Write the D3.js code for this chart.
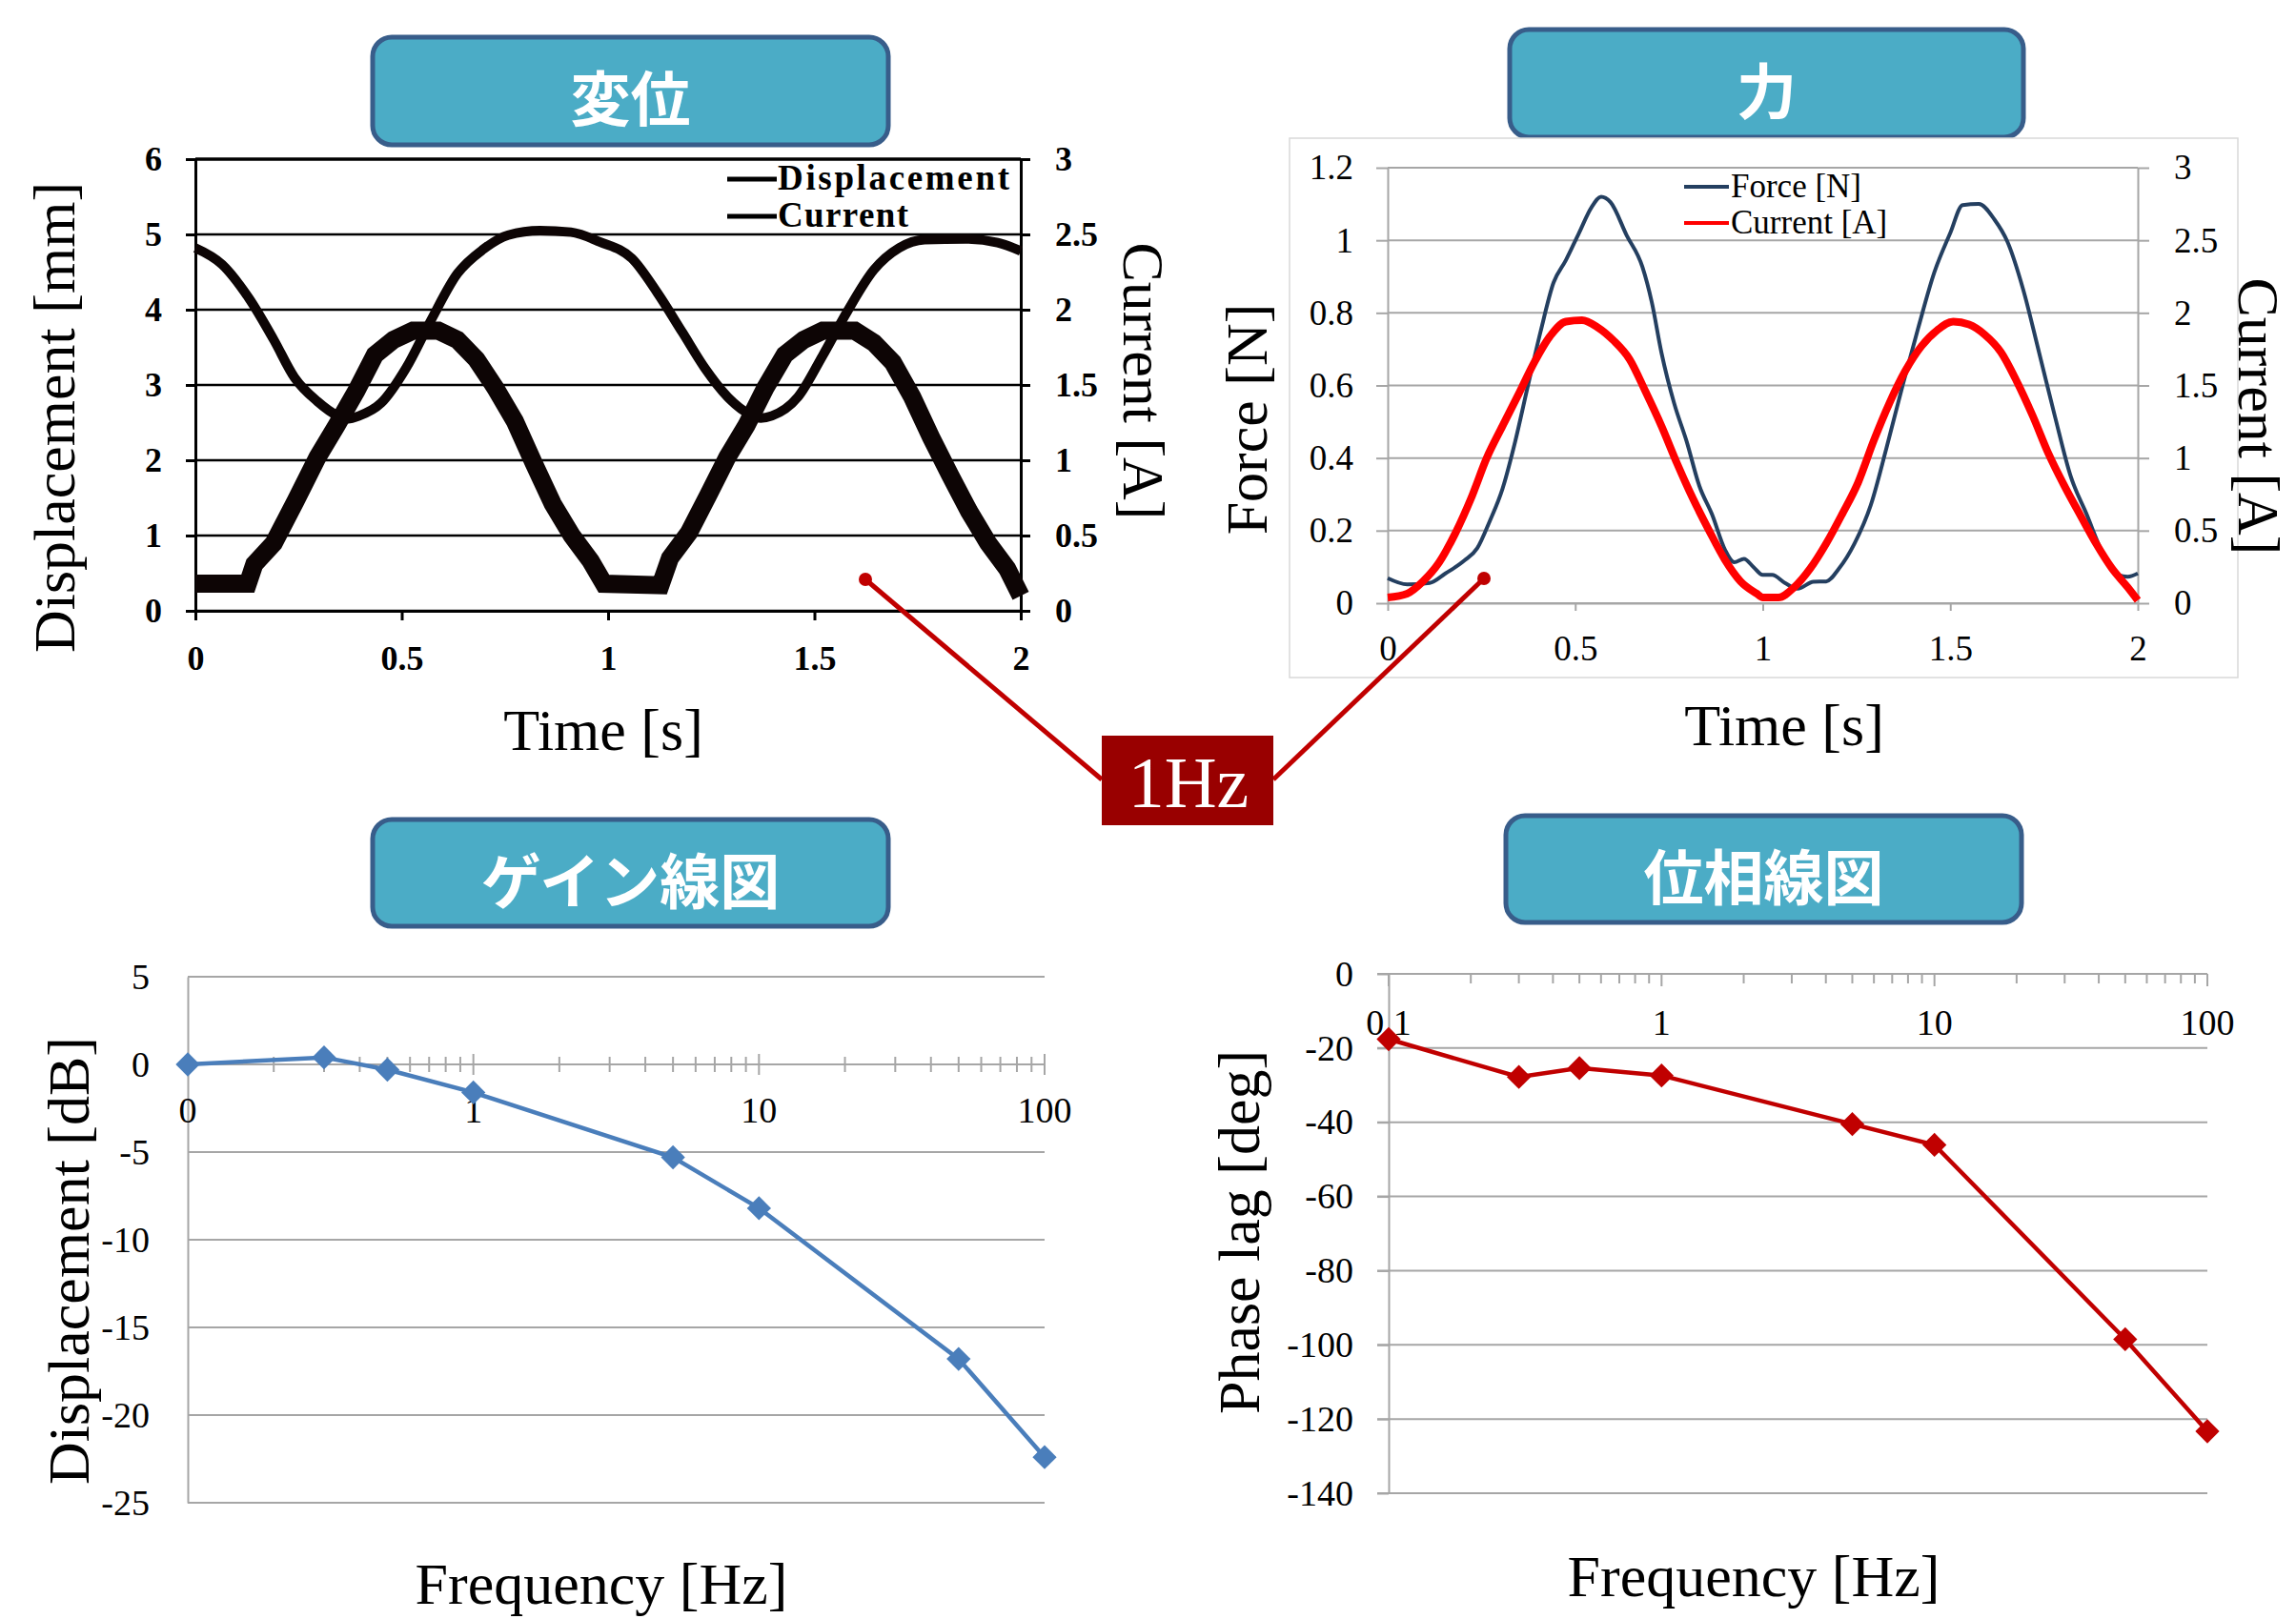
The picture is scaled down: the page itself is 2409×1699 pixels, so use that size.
<!DOCTYPE html>
<html>
<head>
<meta charset="utf-8">
<script src="https://cdn.jsdelivr.net/npm/d3@7"></script>
<style>
  body { margin: 0; background: #fff; }
</style>
</head>
<body>
<svg id="fig"></svg>
<script>
// ---- data ----
// top left: displacement [mm] and current [A] against time [s]
const dispT  = [0, 0.065, 0.13, 0.19, 0.24, 0.296, 0.342, 0.37, 0.397, 0.45, 0.51, 0.57, 0.635, 0.697, 0.758, 0.835, 0.91, 0.98,
                1.058, 1.12, 1.18, 1.235, 1.29, 1.344, 1.37, 1.397, 1.46, 1.52, 1.58, 1.644, 1.705, 1.767, 1.866, 1.944, 2.0];
const dispMM = [4.82, 4.6, 4.15, 3.6, 3.1, 2.78, 2.6, 2.55, 2.59, 2.76, 3.22, 3.85, 4.48, 4.8, 4.99, 5.05, 5.03, 4.9,
                4.68, 4.22, 3.7, 3.22, 2.84, 2.61, 2.56, 2.59, 2.84, 3.39, 3.98, 4.53, 4.82, 4.93, 4.94, 4.89, 4.78];
const cur1T = [0, 0.127, 0.143, 0.19, 0.243, 0.296, 0.342, 0.39, 0.435, 0.48, 0.527, 0.589, 0.635, 0.681, 0.727, 0.774, 0.82, 0.866, 0.912, 0.958, 0.99,
               1.127, 1.15, 1.196, 1.243, 1.289, 1.335, 1.381, 1.428, 1.474, 1.52, 1.598, 1.644, 1.69, 1.737, 1.783, 1.829, 1.875, 1.921, 1.967, 2.0];
const cur1A = [0.18, 0.18, 0.31, 0.45, 0.73, 1.02, 1.23, 1.46, 1.70, 1.80, 1.86, 1.86, 1.80, 1.67, 1.48, 1.26, 0.98, 0.71, 0.50, 0.33, 0.18,
               0.17, 0.35, 0.52, 0.77, 1.02, 1.23, 1.48, 1.70, 1.80, 1.86, 1.86, 1.78, 1.65, 1.42, 1.15, 0.90, 0.66, 0.45, 0.28, 0.10];

// top right: force [N] and current [A] against time [s]
const forceT = [0, 0.052, 0.112, 0.154, 0.205, 0.239, 0.272, 0.306, 0.34, 0.374, 0.408, 0.442, 0.475, 0.51, 0.543, 0.569, 0.594, 0.637, 0.679, 0.704,
                0.73, 0.764, 0.797, 0.831, 0.865, 0.899, 0.924, 0.95, 0.975, 1.0, 1.025, 1.059, 1.093, 1.135, 1.169, 1.203, 1.245, 1.288, 1.33, 1.373,
                1.415, 1.457, 1.5, 1.533, 1.576, 1.618, 1.652, 1.694, 1.737, 1.779, 1.821, 1.864, 1.906, 1.948, 1.973, 2.0];
const forceN = [0.069, 0.052, 0.056, 0.082, 0.118, 0.152, 0.226, 0.315, 0.446, 0.6, 0.75, 0.883, 0.945, 1.02, 1.09, 1.12, 1.105, 1.014, 0.927, 0.83,
                0.69, 0.55, 0.446, 0.323, 0.244, 0.148, 0.113, 0.122, 0.1, 0.078, 0.078, 0.056, 0.04, 0.059, 0.06, 0.095, 0.165, 0.27, 0.428, 0.6,
                0.76, 0.91, 1.02, 1.097, 1.1, 1.057, 0.997, 0.866, 0.69, 0.515, 0.35, 0.244, 0.139, 0.078, 0.073, 0.082];
const cur2T = [0, 0.052, 0.094, 0.137, 0.18, 0.222, 0.264, 0.306, 0.349, 0.391, 0.433, 0.475, 0.518, 0.56, 0.602, 0.645, 0.687, 0.73, 0.772, 0.814,
               0.857, 0.899, 0.941, 0.984, 1.0, 1.042, 1.084, 1.127, 1.169, 1.211, 1.254, 1.296, 1.338, 1.38, 1.423, 1.465, 1.508, 1.55, 1.592, 1.635,
               1.677, 1.72, 1.762, 1.804, 1.846, 1.889, 1.931, 1.973, 2.0];
const cur2A = [0.04, 0.066, 0.15, 0.28, 0.48, 0.72, 1.0, 1.22, 1.44, 1.66, 1.84, 1.94, 1.95, 1.9, 1.81, 1.68, 1.46, 1.22, 0.96, 0.72,
               0.5, 0.3, 0.15, 0.066, 0.04, 0.04, 0.11, 0.24, 0.41, 0.61, 0.83, 1.12, 1.38, 1.6, 1.77, 1.88, 1.94, 1.92, 1.85, 1.73,
               1.53, 1.29, 1.03, 0.81, 0.61, 0.41, 0.24, 0.11, 0.02];

// bottom: gain and phase against frequency
const freqHz   = [0.1, 0.3, 0.5, 1, 5, 10, 50, 100];
const gainDB   = [0, 0.4, -0.3, -1.6, -5.3, -8.2, -16.8, -22.4];
const phaseDeg = [-17.6, -27.8, -25.4, -27.4, -40.5, -46.1, -98.5, -123.3];

// ticks and labels
const timeTicks  = [0, 0.5, 1, 1.5, 2];
const dispTicks  = [0, 1, 2, 3, 4, 5, 6];
const curTicks   = [0, 0.5, 1, 1.5, 2, 2.5, 3];
const forceTicks = [0, 0.2, 0.4, 0.6, 0.8, 1, 1.2];
const gainTicks  = [5, 0, -5, -10, -15, -20, -25];
const phaseTicks = [0, -20, -40, -60, -80, -100, -120, -140];
const freqTicks  = [0.1, 1, 10, 100];
const gainFreqLabels  = ["0", "1", "10", "100"];
const phaseFreqLabels = ["0.1", "1", "10", "100"];
const titles = ["変位", "力", "ゲイン線図", "位相線図"];

// ---- setup ----
const W = 2409, H = 1699;
const serif = "'Liberation Serif','Times New Roman',serif";
const cjk = "'Noto Sans CJK JP','Noto Sans CJK SC',sans-serif";

var svg = d3.select("#fig").attr("width", W).attr("height", H);
svg.append("rect").attr("width", W).attr("height", H).attr("fill", "#fff");

function pairs(xs, ys) { return xs.map((x, i) => [x, ys[i]]); }

function styleAxis(g, color, size, weight, sw) {
    g.attr("font-family", serif).attr("font-size", size).attr("font-weight", weight);
    g.selectAll("text").attr("fill", "#000");
    g.selectAll("line,path").attr("stroke", color).attr("stroke-width", sw);
}

function axisTitle(text, x, y, rot) {
    svg.append("text")
        .attr("transform", "translate(" + x + "," + y + ") rotate(" + rot + ")")
        .attr("text-anchor", "middle")
        .attr("dominant-baseline", rot ? "central" : "auto")
        .attr("font-family", serif)
        .attr("font-size", 62)
        .text(text);
}

function titleBox(label, x, y, w, h) {
    svg.append("rect")
        .attr("x", x).attr("y", y).attr("width", w).attr("height", h)
        .attr("rx", 20)
        .attr("fill", "#4bacc6")
        .attr("stroke", "#385d8a")
        .attr("stroke-width", 5);
    svg.append("text")
        .attr("x", x + w / 2).attr("y", y + h / 2 + 4)
        .attr("text-anchor", "middle")
        .attr("dominant-baseline", "central")
        .attr("font-family", cjk)
        .attr("font-weight", "bold")
        .attr("font-size", 63)
        .attr("fill", "#fff")
        .text(label);
}

titleBox(titles[0], 391, 39, 541, 113);
titleBox(titles[1], 1584, 31, 539, 113);
titleBox(titles[2], 391, 860, 541, 112);
titleBox(titles[3], 1580, 856, 541, 112);

// ---- panel 1: displacement / current ----
const x1 = d3.scaleLinear().domain([0, 2]).range([205, 1071]);
const y1 = d3.scaleLinear().domain([0, 6]).range([641, 167]);
const y1r = d3.scaleLinear().domain([0, 3]).range([641, 167]);

svg.append("g").selectAll("line").data(dispTicks).join("line")
    .attr("x1", x1(0)).attr("x2", x1(2))
    .attr("y1", d => y1(d)).attr("y2", d => y1(d))
    .attr("stroke", "#000").attr("stroke-width", d => d === 6 ? 3.5 : 2.5);

var g1l = svg.append("g").attr("transform", "translate(205,0)")
    .call(d3.axisLeft(y1).tickValues(dispTicks).tickFormat(d => String(d)).tickSizeInner(10).tickSizeOuter(0).tickPadding(25));
styleAxis(g1l, "#000", 36, "bold", 3);
var g1r = svg.append("g").attr("transform", "translate(1071,0)")
    .call(d3.axisRight(y1r).tickValues(curTicks).tickFormat(d => String(d)).tickSizeInner(10).tickSizeOuter(0).tickPadding(26));
styleAxis(g1r, "#000", 36, "bold", 3);
var g1b = svg.append("g").attr("transform", "translate(0,641)")
    .call(d3.axisBottom(x1).tickValues(timeTicks).tickFormat(d => String(d)).tickSizeInner(10).tickSizeOuter(0).tickPadding(26));
styleAxis(g1b, "#000", 36, "bold", 3);

svg.append("path")
    .datum(pairs(dispT, dispMM))
    .attr("fill", "none").attr("stroke", "#0d0505").attr("stroke-width", 10)
    .attr("d", d3.line().x(d => x1(d[0])).y(d => y1(d[1])).curve(d3.curveMonotoneX));
svg.append("path")
    .datum(pairs(cur1T, cur1A))
    .attr("fill", "none").attr("stroke", "#0d0505").attr("stroke-width", 19)
    .attr("stroke-linejoin", "miter")
    .attr("d", d3.line().x(d => x1(d[0])).y(d => y1r(d[1])));

// legend
var leg1 = svg.append("g").attr("font-family", serif).attr("font-weight", "bold").attr("font-size", 37);
[["Displacement", 188], ["Current", 227]].forEach(function (e) {
    leg1.append("line").attr("x1", 763).attr("x2", 815).attr("y1", e[1]).attr("y2", e[1])
        .attr("stroke", "#000").attr("stroke-width", 5);
    leg1.append("text").attr("x", 816).attr("y", e[1] + 11).attr("textLength", e[0] === "Displacement" ? 243 : 137).text(e[0]);
});

axisTitle("Displacement [mm]", 57, 438, -90);
axisTitle("Time [s]", 633, 787, 0);
axisTitle("Current [A]", 1200, 400, 90);

// ---- panel 2: force / current ----
svg.append("rect").attr("x", 1353).attr("y", 145).attr("width", 995).attr("height", 566)
    .attr("fill", "#fff").attr("stroke", "#d9d9d9").attr("stroke-width", 1.5);

const x2 = d3.scaleLinear().domain([0, 2]).range([1456, 2243]);
const y2 = d3.scaleLinear().domain([0, 1.2]).range([633, 176]);
const y2r = d3.scaleLinear().domain([0, 3]).range([633, 176]);

svg.append("g").selectAll("line").data(forceTicks).join("line")
    .attr("x1", x2(0)).attr("x2", x2(2))
    .attr("y1", d => y2(d)).attr("y2", d => y2(d))
    .attr("stroke", "#a6a6a6").attr("stroke-width", 2);

var g2l = svg.append("g").attr("transform", "translate(1456,0)")
    .call(d3.axisLeft(y2).tickValues(forceTicks).tickFormat(d => String(d)).tickSizeInner(12).tickSizeOuter(0).tickPadding(24));
styleAxis(g2l, "#a6a6a6", 37, "normal", 2);
var g2r = svg.append("g").attr("transform", "translate(2243,0)")
    .call(d3.axisRight(y2r).tickValues(curTicks).tickFormat(d => String(d)).tickSizeInner(12).tickSizeOuter(0).tickPadding(26));
styleAxis(g2r, "#a6a6a6", 37, "normal", 2);
var g2b = svg.append("g").attr("transform", "translate(0,633)")
    .call(d3.axisBottom(x2).tickValues(timeTicks).tickFormat(d => String(d)).tickSizeInner(8).tickSizeOuter(0).tickPadding(26));
styleAxis(g2b, "#a6a6a6", 37, "normal", 2);

svg.append("path")
    .datum(pairs(forceT, forceN))
    .attr("fill", "none").attr("stroke", "#243f60").attr("stroke-width", 4)
    .attr("d", d3.line().x(d => x2(d[0])).y(d => y2(d[1])).curve(d3.curveMonotoneX));
svg.append("path")
    .datum(pairs(cur2T, cur2A))
    .attr("fill", "none").attr("stroke", "#ff0000").attr("stroke-width", 8)
    .attr("d", d3.line().x(d => x2(d[0])).y(d => y2r(d[1])).curve(d3.curveMonotoneX));

var leg2 = svg.append("g").attr("font-family", serif).attr("font-size", 35);
[["Force [N]", 196, "#243f60"], ["Current [A]", 234, "#ff0000"]].forEach(function (e) {
    leg2.append("line").attr("x1", 1767).attr("x2", 1814).attr("y1", e[1]).attr("y2", e[1])
        .attr("stroke", e[2]).attr("stroke-width", 4);
    leg2.append("text").attr("x", 1816).attr("y", e[1] + 11).text(e[0]);
});

axisTitle("Force [N]", 1308, 440, -90);
axisTitle("Time [s]", 1872, 782, 0);
axisTitle("Current [A]", 2370, 437, 90);

// ---- panel 3: gain ----
const x3 = d3.scaleLog().domain([0.1, 100]).range([197, 1096]);
const y3 = d3.scaleLinear().domain([-25, 5]).range([1577, 1025]);

svg.append("g").selectAll("line").data(gainTicks.filter(d => d !== 0)).join("line")
    .attr("x1", x3(0.1)).attr("x2", x3(100))
    .attr("y1", d => y3(d)).attr("y2", d => y3(d))
    .attr("stroke", "#a6a6a6").attr("stroke-width", 2);

var g3l = svg.append("g").attr("transform", "translate(197,0)")
    .call(d3.axisLeft(y3).tickValues(gainTicks).tickFormat(d => String(d)).tickSize(0).tickPadding(40));
styleAxis(g3l, "#a6a6a6", 38, "normal", 2);

// x axis on the 0 dB line, log ticks crossing the line
var g3x = svg.append("g").attr("transform", "translate(0," + y3(0) + ")");
g3x.append("line").attr("x1", x3(0.1)).attr("x2", x3(100)).attr("stroke", "#a6a6a6").attr("stroke-width", 2);
g3x.selectAll("line.mt").data(x3.ticks()).join("line").attr("class", "mt")
    .attr("x1", d => x3(d)).attr("x2", d => x3(d))
    .attr("y1", d => freqTicks.includes(d) ? -11 : -8).attr("y2", d => freqTicks.includes(d) ? 11 : 8)
    .attr("stroke", "#a6a6a6").attr("stroke-width", 2);
g3x.selectAll("text").data(freqTicks).join("text")
    .attr("x", d => x3(d)).attr("y", 61)
    .attr("text-anchor", "middle")
    .attr("font-family", serif).attr("font-size", 38)
    .text((d, i) => gainFreqLabels[i]);

svg.append("path")
    .datum(pairs(freqHz, gainDB))
    .attr("fill", "none").attr("stroke", "#4a7ebb").attr("stroke-width", 4.5)
    .attr("d", d3.line().x(d => x3(d[0])).y(d => y3(d[1])));
svg.append("g").selectAll("path").data(pairs(freqHz, gainDB)).join("path")
    .attr("transform", d => "translate(" + x3(d[0]) + "," + y3(d[1]) + ") rotate(45)")
    .attr("d", d3.symbol().type(d3.symbolSquare).size(320))
    .attr("fill", "#4a7ebb");

axisTitle("Displacement [dB]", 72, 1323, -90);
axisTitle("Frequency [Hz]", 631, 1683, 0);

// ---- panel 4: phase ----
const x4 = d3.scaleLog().domain([0.1, 100]).range([1457, 2316]);
const y4 = d3.scaleLinear().domain([-140, 0]).range([1567, 1022]);

svg.append("g").selectAll("line").data(phaseTicks).join("line")
    .attr("x1", x4(0.1) - 12).attr("x2", x4(100))
    .attr("y1", d => y4(d)).attr("y2", d => y4(d))
    .attr("stroke", "#a6a6a6").attr("stroke-width", 2);

var g4l = svg.append("g").attr("transform", "translate(1457,0)")
    .call(d3.axisLeft(y4).tickValues(phaseTicks).tickFormat(d => String(d)).tickSizeInner(12).tickSizeOuter(0).tickPadding(25));
styleAxis(g4l, "#a6a6a6", 38, "normal", 2);

var g4x = svg.append("g").attr("transform", "translate(0," + y4(0) + ")");
g4x.selectAll("line.mt").data(x4.ticks()).join("line").attr("class", "mt")
    .attr("x1", d => x4(d)).attr("x2", d => x4(d))
    .attr("y1", 0).attr("y2", d => freqTicks.includes(d) ? 13 : 10)
    .attr("stroke", "#a6a6a6").attr("stroke-width", 2);
g4x.selectAll("text").data(freqTicks).join("text")
    .attr("x", d => x4(d)).attr("y", 64)
    .attr("text-anchor", "middle")
    .attr("font-family", serif).attr("font-size", 38)
    .text((d, i) => phaseFreqLabels[i]);

svg.append("path")
    .datum(pairs(freqHz, phaseDeg))
    .attr("fill", "none").attr("stroke", "#c00000").attr("stroke-width", 4.5)
    .attr("d", d3.line().x(d => x4(d[0])).y(d => y4(d[1])));
svg.append("g").selectAll("path").data(pairs(freqHz, phaseDeg)).join("path")
    .attr("transform", d => "translate(" + x4(d[0]) + "," + y4(d[1]) + ") rotate(45)")
    .attr("d", d3.symbol().type(d3.symbolSquare).size(320))
    .attr("fill", "#c00000");

axisTitle("Phase lag [deg]", 1300, 1293, -90);
axisTitle("Frequency [Hz]", 1840, 1675, 0);

// ---- 1Hz callout ----
var call = svg.append("g");
call.append("line").attr("x1", 908).attr("y1", 608).attr("x2", 1156).attr("y2", 818)
    .attr("stroke", "#c00000").attr("stroke-width", 5);
call.append("line").attr("x1", 1557).attr("y1", 607).attr("x2", 1336).attr("y2", 818)
    .attr("stroke", "#c00000").attr("stroke-width", 5);
call.append("circle").attr("cx", 908).attr("cy", 608).attr("r", 7).attr("fill", "#c00000");
call.append("circle").attr("cx", 1557).attr("cy", 607).attr("r", 7).attr("fill", "#c00000");
call.append("rect").attr("x", 1156).attr("y", 772).attr("width", 180).attr("height", 94).attr("fill", "#990000");
call.append("text").attr("x", 1247).attr("y", 847)
    .attr("text-anchor", "middle")
    .attr("font-family", serif).attr("font-size", 76)
    .attr("fill", "#fff")
    .text("1Hz");
</script>
</body>
</html>
